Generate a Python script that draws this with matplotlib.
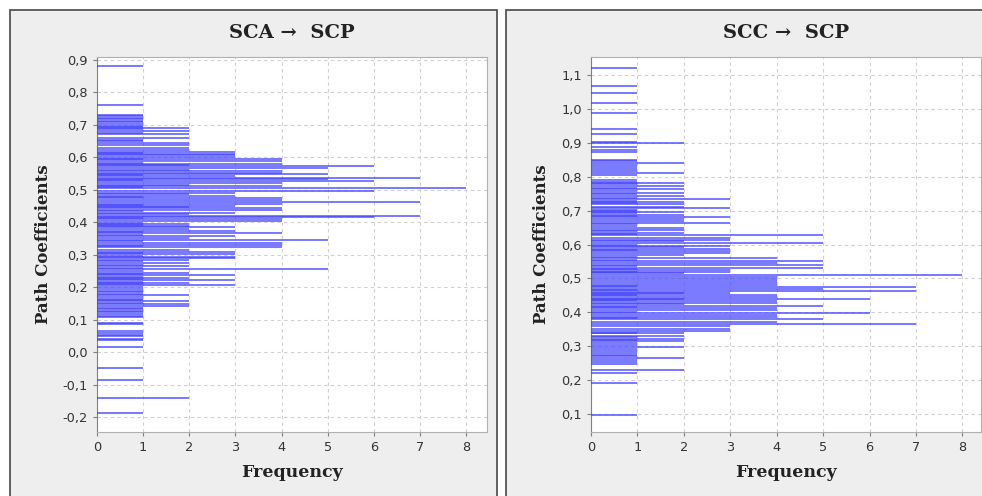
import numpy as np
import matplotlib.pyplot as plt
from matplotlib.patches import Rectangle
from matplotlib.ticker import FuncFormatter

# path coefficient values, grouped by how often they occur
sca_f8 = [0.505]
sca_f7 = [0.537, 0.463, 0.420]
sca_f6 = [0.573, 0.527, 0.498, 0.417]
sca_f5 = [0.566, 0.548, 0.533, 0.346, 0.256]
sca_f4 = [0.594, 0.588, 0.581, 0.557, 0.552, 0.520, 0.512, 0.474, 0.468, 0.458,
          0.443, 0.438, 0.410, 0.403, 0.366, 0.338, 0.331, 0.323]
sca_f3 = [0.618, 0.612, 0.607, 0.600, 0.543, 0.490, 0.482, 0.452, 0.430, 0.385,
          0.375, 0.358, 0.310, 0.302, 0.295, 0.290, 0.237, 0.222, 0.206]
sca_f2 = [0.690, 0.680, 0.672, 0.660, 0.645, 0.638, 0.630, 0.622, 0.578, 0.560,
          0.515, 0.486, 0.447, 0.425, 0.395, 0.388, 0.380, 0.352, 0.315, 0.284,
          0.276, 0.265, 0.245, 0.230, 0.214, 0.176, 0.157, 0.148, 0.142, -0.139]
sca_f1 = [0.880, 0.761, 0.731, 0.727, 0.722, 0.718, 0.713, 0.708, 0.703, 0.698,
          0.694, 0.686, 0.676, 0.655, 0.650, 0.615, 0.596, 0.584, 0.545, 0.530,
          0.508, 0.478, 0.455, 0.434, 0.414, 0.398, 0.392, 0.371, 0.362, 0.343,
          0.327, 0.306, 0.298, 0.280, 0.270, 0.260, 0.250, 0.241, 0.233, 0.226,
          0.218, 0.210, 0.200, 0.195, 0.190, 0.185, 0.180, 0.170, 0.165, 0.161,
          0.152, 0.138, 0.133, 0.128, 0.123, 0.118, 0.113, 0.108, 0.090, 0.086,
          0.065, 0.060, 0.055, 0.050, 0.042, 0.037, 0.018, -0.049, -0.085, -0.188]

scc_f8 = [0.510]
scc_f7 = [0.474, 0.463, 0.367]
scc_f6 = [0.439, 0.399]
scc_f5 = [0.628, 0.605, 0.551, 0.540, 0.532, 0.470, 0.419, 0.379]
scc_f4 = [0.559, 0.545, 0.505, 0.498, 0.492, 0.486, 0.480, 0.452, 0.446, 0.432,
          0.426, 0.412, 0.406, 0.393, 0.387, 0.372]
scc_f3 = [0.733, 0.707, 0.680, 0.663, 0.620, 0.614, 0.596, 0.588, 0.580, 0.575,
          0.525, 0.518, 0.458, 0.360, 0.352, 0.345]
scc_f2 = [0.898, 0.840, 0.812, 0.782, 0.772, 0.763, 0.753, 0.742, 0.725, 0.718,
          0.712, 0.696, 0.688, 0.676, 0.670, 0.650, 0.643, 0.635, 0.610, 0.592,
          0.568, 0.515, 0.456, 0.440, 0.425, 0.338, 0.330, 0.322, 0.315, 0.298,
          0.264, 0.230]
scc_f1 = [1.120, 1.068, 1.048, 1.016, 0.989, 0.940, 0.926, 0.903, 0.887, 0.880,
          0.873, 0.850, 0.845, 0.835, 0.828, 0.822, 0.816, 0.806, 0.790, 0.785,
          0.777, 0.768, 0.758, 0.748, 0.737, 0.729, 0.721, 0.703, 0.700, 0.692,
          0.684, 0.660, 0.655, 0.640, 0.630, 0.600, 0.584, 0.563, 0.555, 0.536,
          0.528, 0.520, 0.478, 0.466, 0.450, 0.435, 0.415, 0.402, 0.383, 0.340,
          0.326, 0.318, 0.310, 0.303, 0.293, 0.287, 0.281, 0.275, 0.270, 0.258,
          0.253, 0.249, 0.220, 0.192, 0.097]

titles = ["SCA \u2192  SCP", "SCC \u2192  SCP"]
sca_yticks = [-0.2, -0.1, 0.0, 0.1, 0.2, 0.3, 0.4, 0.5, 0.6, 0.7, 0.8, 0.9]
scc_yticks = [0.1, 0.2, 0.3, 0.4, 0.5, 0.6, 0.7, 0.8, 0.9, 1.0, 1.1]
xticks = [0, 1, 2, 3, 4, 5, 6, 7, 8]


def collect(groups):
    vals, counts = [], []
    for n, g in groups:
        vals += g
        counts += [n] * len(g)
    return np.array(vals), np.array(counts)


sca_vals, sca_counts = collect([(1, sca_f1), (2, sca_f2), (3, sca_f3), (4, sca_f4),
                                (5, sca_f5), (6, sca_f6), (7, sca_f7), (8, sca_f8)])
scc_vals, scc_counts = collect([(1, scc_f1), (2, scc_f2), (3, scc_f3), (4, scc_f4),
                                (5, scc_f5), (6, scc_f6), (7, scc_f7), (8, scc_f8)])

W, H = 982, 496
fig = plt.figure(figsize=(W / 100, H / 100), dpi=100)

# gray panel frames
for x0, x1 in [(10, 497), (506, 995)]:
    fig.patches.append(Rectangle((x0 / W, -0.02), (x1 - x0) / W, (H - 10) / H + 0.02,
                                 transform=fig.transFigure, facecolor='#eeeeee',
                                 edgecolor='#555555', linewidth=1.3, zorder=-5))

comma = FuncFormatter(lambda v, p: f"{v:.1f}".replace('.', ','))

panels = [
    (97, sca_vals, sca_counts, (-0.245, 0.909), sca_yticks, 8.45),
    (591, scc_vals, scc_counts, (0.047, 1.153), scc_yticks, 8.4),
]

for i, (px, vals, counts, ylim, yt, xmax) in enumerate(panels):
    ax = fig.add_axes([px / W, (H - 432) / H, 390 / W, 375 / H])
    ax.set_zorder(2)
    ax.set_facecolor('white')
    ax.hlines(vals, 0, counts, color='#4444ff', alpha=0.78, linewidth=1.3, zorder=3)
    ax.set_xlim(0, xmax)
    ax.set_ylim(*ylim)
    ax.set_xticks(xticks)
    ax.set_yticks(yt)
    ax.yaxis.set_major_formatter(comma)
    ax.grid(True, color='#cfcfcf', linestyle=(0, (3, 3)), linewidth=0.8, zorder=0)
    ax.set_axisbelow(True)
    for s in ax.spines.values():
        s.set_color('#b0b0b0')
    ax.spines['left'].set_color('#808080')
    ax.tick_params(colors='#808080', labelcolor='#333333', labelsize=9.3, length=3)
    ax.set_xlabel("Frequency", family='DejaVu Serif', fontweight='bold', fontsize=12.5,
                  color='#222222', labelpad=7)
    ax.set_ylabel("Path Coefficients", family='DejaVu Serif', fontweight='bold',
                  fontsize=12, color='#222222', labelpad=8)
    ax.set_title(titles[i], family='DejaVu Serif', fontweight='bold', fontsize=14,
                 color='#222222', pad=14)

fig.savefig("out.png", dpi=100)
